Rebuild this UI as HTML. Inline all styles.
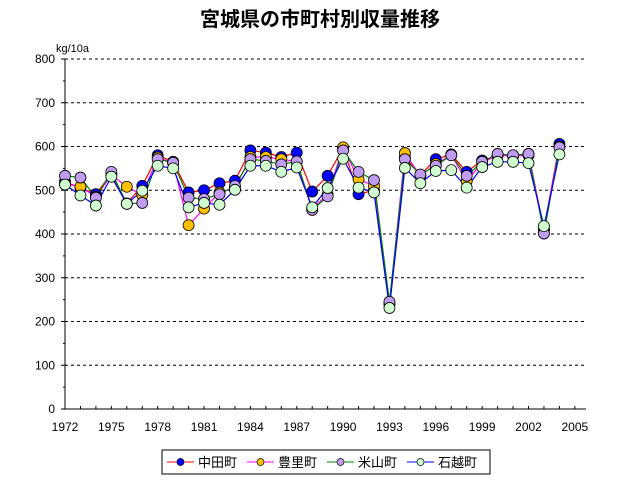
<!DOCTYPE html>
<html><head><meta charset="utf-8"><style>
body{margin:0;background:#fff;}
svg text{font-family:"Liberation Sans","Noto Sans CJK JP",sans-serif;}
</style></head><body>
<svg id="chart" width="640" height="485">
<text x="320" y="26" text-anchor="middle" font-size="20" font-weight="bold">宮城県の市町村別収量推移</text>
<text x="56" y="52" font-size="11">kg/10a</text>
<g id="grid"></g><g id="axes"></g><g id="series"></g>
<g>
<rect x="162" y="450" width="328" height="24" fill="#fff" stroke="#000"/>
<g id="legend"></g>
</g>
</svg>
<script>
const years=[];for(let y=1972;y<=2004;y++)years.push(y);
const nakada=[520,505,491,538,470,510,580,565,495,500,516,522,591,586,576,586,497,533,597,491,500,240,575,535,571,582,542,568,580,580,583,410,606];
const toyosato=[515,508,485,535,508,489,575,562,420,458,495,505,576,576,571,565,458,490,598,525,510,240,585,533,560,580,521,563,580,578,580,410,600];
const yoneyama=[533,529,483,542,469,471,571,563,483,480,491,510,571,567,559,566,455,486,591,542,523,245,571,536,556,580,533,565,583,580,583,401,598];
const ishikoshi=[513,488,465,531,469,499,556,550,461,471,467,501,556,556,542,552,461,505,572,506,495,231,551,516,544,546,506,553,565,565,562,418,582];
const yTicks=[0,100,200,300,400,500,600,700,800];
const xLabels=[1972,1975,1978,1981,1984,1987,1990,1993,1996,1999,2002,2005];
const names=['中田町','豊里町','米山町','石越町'];
const lineColors=['#ff0000','#ff00ff','#008000','#0000ff'];
const markColors=['#0000ff','#ffc000','#c09cf0','#d0ffd0'];
const ns='http://www.w3.org/2000/svg';
const X0=65,XS=15.45,Y0=409,YS=350/800,XR=586;
const xs=y=>X0+(y-1972)*XS, ys=v=>Y0-v*YS;
function mk(t,a,p){const e=document.createElementNS(ns,t);for(const k in a)e.setAttribute(k,a[k]);p.appendChild(e);return e;}
const grid=document.getElementById('grid'),axes=document.getElementById('axes'),ser=document.getElementById('series'),leg=document.getElementById('legend');
yTicks.forEach(v=>{
 if(v>0){const l=mk('line',{x1:X0,x2:XR,y1:ys(v),y2:ys(v),stroke:'#000','stroke-dasharray':'3,3'},grid);
 
 }
 const t=mk('text',{x:X0-10,y:ys(v)+4,'text-anchor':'end','font-size':12},axes);t.textContent=v;
 
 
 mk('line',{x1:X0-4,x2:X0,y1:ys(v),y2:ys(v),stroke:'#000'},axes);
 if(v<800)mk('line',{x1:X0-2,x2:X0,y1:ys(v+50),y2:ys(v+50),stroke:'#000'},axes);
});
mk('line',{x1:X0,x2:X0,y1:ys(800),y2:Y0,stroke:'#000'},axes);
mk('line',{x1:X0,x2:XR,y1:Y0,y2:Y0,stroke:'#000'},axes);
for(let y=1972;y<=2005;y++)mk('line',{x1:xs(y),x2:xs(y),y1:Y0,y2:Y0-3,stroke:'#000'},axes);
xLabels.forEach(y=>{const t=mk('text',{x:xs(y),y:431,'text-anchor':'middle','font-size':12},axes);t.textContent=y;
 
 });
const data=[nakada,toyosato,yoneyama,ishikoshi];
data.forEach((d,i)=>{
 const g=mk('g',{},ser);
 
 
 mk('polyline',{points:d.map((v,j)=>xs(years[j])+','+ys(v)).join(' '),fill:'none',stroke:lineColors[i],'stroke-width':1.2},g);
});
data.forEach((d,i)=>{
 d.forEach((v,j)=>{const c=mk('circle',{cx:xs(years[j]),cy:ys(v),r:5.5,fill:markColors[i],stroke:'#000','stroke-width':0.8},ser);
 
 });
});
names.forEach((n,i)=>{
 const x=167+i*80;
 const g=mk('g',{},leg);
 
 
 mk('line',{x1:x,x2:x+27,y1:462,y2:462,stroke:lineColors[i]},g);
 mk('circle',{cx:x+13.5,cy:462,r:3.5,fill:markColors[i],stroke:'#000','stroke-width':0.7},g);
 const t=mk('text',{x:x+31,y:467,'font-size':13},g);t.textContent=n;
});
</script>
</body></html>
